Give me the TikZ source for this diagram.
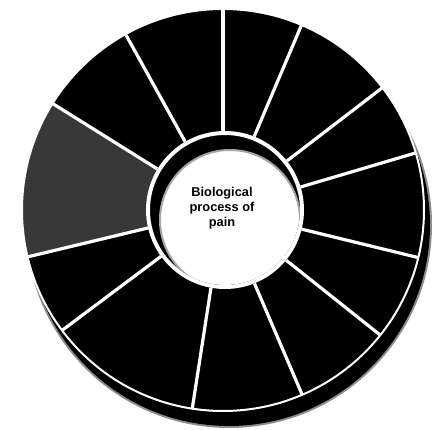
\documentclass[tikz,border=0pt]{standalone}
\usepackage{fontspec}
\setmainfont{Liberation Sans}
\usetikzlibrary{positioning}

\begin{document}
\begin{tikzpicture}[x=1pt, y=1pt,
    spoke/.style={white, line width=3.2pt},
    every node/.style={font=\bfseries\fontsize{12.8}{15}\selectfont}]
  \useasboundingbox (-223,-220) rectangle (217,210);
  % shadow
  \fill[black!45] (6,-15) circle (203);
  \fill[black] (6,-15) circle (201);
  % wheel
  \fill[black] (0,0) circle (201);
  % highlighted segment
  \fill[black!78] (148:201) arc (148:193.5:201) -- (193.5:70) arc (193.5:148:70) -- cycle;
  % spokes
  \foreach \a in {90,67,37.5,16.5,-13.7,-38.5,-66.8,-98.8,-143.2,-166.5,148,119}
    \draw[spoke] (\a:70) -- (\a:201);
  % rim
  \draw[white, line width=2pt] (0,0) circle (201);
  % hub
  \fill[black] (2,0) circle (79);
  \draw[white, line width=4pt] (2,0) circle (77);
  \begin{scope}
    \clip (2,0) circle (75);
    \fill[white, draw=black!35, line width=2pt] (7,-10) circle (70);
  \end{scope}
  \node[align=center] (hub) at (-1,2) {Biological\\process of\\pain};
\end{tikzpicture}
\end{document}
